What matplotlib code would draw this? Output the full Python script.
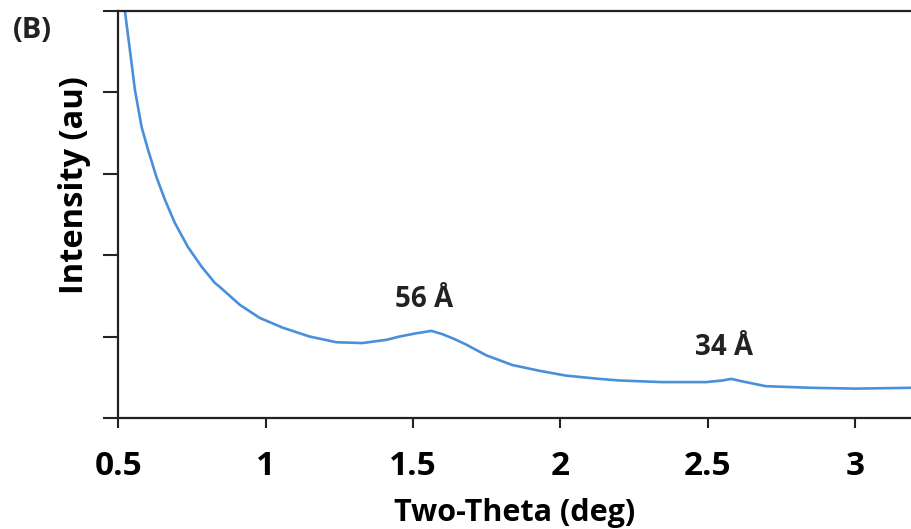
import matplotlib
matplotlib.use("Agg")
import matplotlib.pyplot as plt

# XRD trace
two_theta = [0.515, 0.522, 0.539, 0.556, 0.579, 0.601, 0.629, 0.658, 0.691, 0.736,
             0.782, 0.827, 0.844, 0.912, 0.979, 1.057, 1.149, 1.240, 1.328, 1.410,
             1.454, 1.511, 1.562, 1.599, 1.640, 1.681, 1.748, 1.837, 1.928, 2.019,
             2.131, 2.200, 2.345, 2.494, 2.550, 2.580, 2.616, 2.697, 2.853, 3.002,
             3.190]
intensity = [5.15, 5.00, 4.52, 4.03, 3.57, 3.29, 2.96, 2.68, 2.40, 2.10,
             1.86, 1.66, 1.61, 1.39, 1.23, 1.11, 1.00, 0.93, 0.92, 0.96,
             1.00, 1.04, 1.07, 1.03, 0.97, 0.90, 0.77, 0.65, 0.58, 0.52,
             0.48, 0.46, 0.44, 0.44, 0.46, 0.48, 0.45, 0.39, 0.37, 0.36,
             0.37]

peak_labels = ["56 Å", "34 Å"]
peak_pos = [1.55, 2.58]
peak_height = [1.07, 0.48]
peak_shift = [-3, -5]   # points, horizontal nudge of each label

x_ticks = [0.5, 1, 1.5, 2, 2.5, 3]
x_ticklabels = ["0.5", "1", "1.5", "2", "2.5", "3"]

plt.rcParams['font.family'] = ['Open Sans', 'DejaVu Sans']

fig = plt.figure(figsize=(9.11, 5.29), dpi=100)
ax = fig.add_axes([0.130, 0.210, 0.870, 0.769])

ax.plot(two_theta, intensity, color='#4A90D9', lw=1.9,
        solid_joinstyle='round', solid_capstyle='round')

for lab, xp, yp, dx in zip(peak_labels, peak_pos, peak_height, peak_shift):
    ax.annotate(lab, (xp, yp), xytext=(dx, 12), textcoords='offset points',
                ha='center', va='bottom', fontsize=20, fontweight='bold', color='#222222')

ax.set_xlim(0.5, 3.19)
ax.set_ylim(0, 5)
ax.set_xticks(x_ticks)
ax.set_xticklabels(x_ticklabels)
ax.set_yticks(range(6))
ax.set_yticklabels([])

for s in ['left', 'bottom', 'top']:
    ax.spines[s].set_linewidth(1.6)
    ax.spines[s].set_color('#222222')
ax.spines['right'].set_visible(False)

ax.tick_params(axis='y', direction='out', length=11, width=1.5, color='#222222')
ax.tick_params(axis='x', direction='out', length=7, width=1.5, color='#222222',
               labelsize=24, pad=16)
for t in ax.get_xticklabels():
    t.set_fontweight('bold')

ax.set_xlabel('Two-Theta (deg)', fontsize=22, fontweight='bold', labelpad=11)
ax.set_ylabel('Intensity (au)', fontsize=23.5, fontweight='bold')
ax.yaxis.set_label_coords(-0.034, 0.572)

fig.text(0.014, 0.969, '(B)', fontsize=21, fontweight='bold', color='#222222', va='top')

fig.savefig('out.png', dpi=100)
